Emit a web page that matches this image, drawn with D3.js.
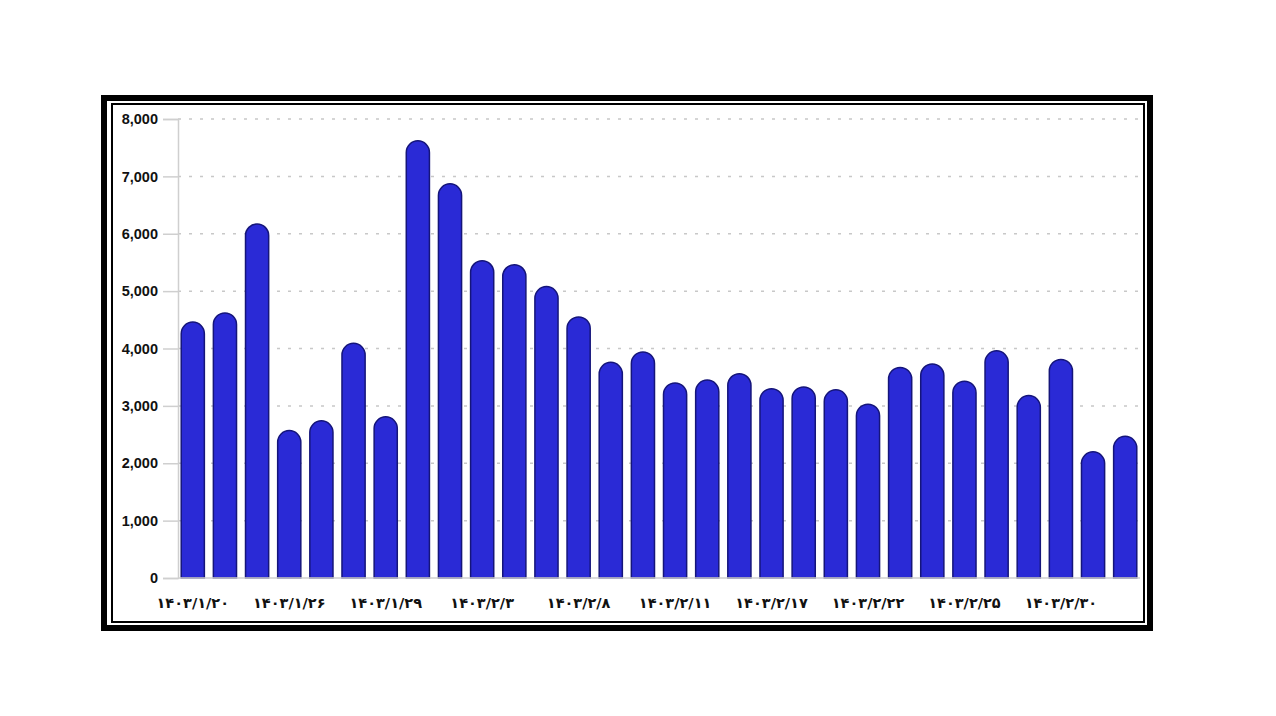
<!DOCTYPE html>
<html><head><meta charset="utf-8">
<script src="https://cdn.jsdelivr.net/npm/d3@7/dist/d3.min.js"></script>
<style>html,body{margin:0;padding:0;background:#fff;}</style>
</head><body>
<svg id="c" width="1276" height="716"></svg>
<script>
const values = [4460,4620,6170,2570,2740,4090,2810,7620,6870,5530,5460,5080,4550,3760,3940,3400,3450,3560,3300,3330,3280,3030,3670,3730,3430,3960,3180,3810,2200,2470];
const dayLabels = ["۱۴۰۳/۱/۲۰","","","۱۴۰۳/۱/۲۶","","","۱۴۰۳/۱/۲۹","","","۱۴۰۳/۲/۳","","","۱۴۰۳/۲/۸","","","۱۴۰۳/۲/۱۱","","","۱۴۰۳/۲/۱۷","","","۱۴۰۳/۲/۲۲","","","۱۴۰۳/۲/۲۵","","","۱۴۰۳/۲/۳۰","",""];
const yTicks = [0,1000,2000,3000,4000,5000,6000,7000,8000];

(function(){
const svg = d3.select("#c");
svg.append("rect").attr("x",104).attr("y",98).attr("width",1046).attr("height",530)
  .attr("fill","#fff").attr("stroke","#000").attr("stroke-width",6);
svg.append("rect").attr("x",112).attr("y",104).attr("width",1032).attr("height",518)
  .attr("fill","none").attr("stroke","#000").attr("stroke-width",2);

const pl=178, pr=1140, pt=119, pb=578;
const x = d3.scaleBand().domain(d3.range(values.length)).range([pl,pr]).paddingInner(0.28).paddingOuter(0.1);
const y = d3.scaleLinear().domain([0,8000]).range([pb,pt]);

svg.append("g").selectAll("line").data(yTicks.filter(d=>d>0)).join("line")
  .attr("x1",pl).attr("x2",pr).attr("y1",d=>y(d)).attr("y2",d=>y(d))
  .attr("stroke","#c8c8c8").attr("stroke-width",1.5).attr("stroke-dasharray","3,8");

const yAxis = d3.axisLeft(y).tickValues(yTicks).tickSize(15).tickPadding(5).tickFormat(d3.format(","));
const ya = svg.append("g").attr("transform",`translate(${pl},0)`).call(yAxis);
ya.select(".domain").attr("stroke","#cfcfcf").attr("stroke-width",1.5);
ya.selectAll(".tick line").attr("stroke","#cfcfcf").attr("stroke-width",1.5);
ya.selectAll("text").attr("font-family","Liberation Sans, Arial, sans-serif").attr("font-weight","bold").attr("font-size",14.5).attr("fill","#111");

const bw = x.bandwidth();
const r = bw/2;
svg.append("g").selectAll("path").data(values).join("path")
  .attr("d",(d,i)=>{
    const x0=x(i), x1=x0+bw, yt=y(d), yb=y(0);
    return `M${x0},${yb}L${x0},${yt+r}A${r},${r} 0 0 1 ${x1},${yt+r}L${x1},${yb}Z`;
  })
  .attr("fill","#2a2ad6").attr("stroke","#15157a").attr("stroke-width",1.5);

const xa = svg.append("g").attr("transform",`translate(0,${pb})`)
  .call(d3.axisBottom(x).tickSize(0).tickPadding(20).tickFormat(i=>dayLabels[i]));
xa.select(".domain").attr("stroke","#cfcfcf").attr("stroke-width",1.5).attr("d",`M${pl},0H${pr}`);
xa.selectAll("text").attr("font-family","DejaVu Sans, sans-serif").attr("font-weight","bold").attr("font-size",14.5)
  .attr("fill","#111").attr("direction","ltr").style("unicode-bidi","plaintext");
})();
</script>
</body></html>
